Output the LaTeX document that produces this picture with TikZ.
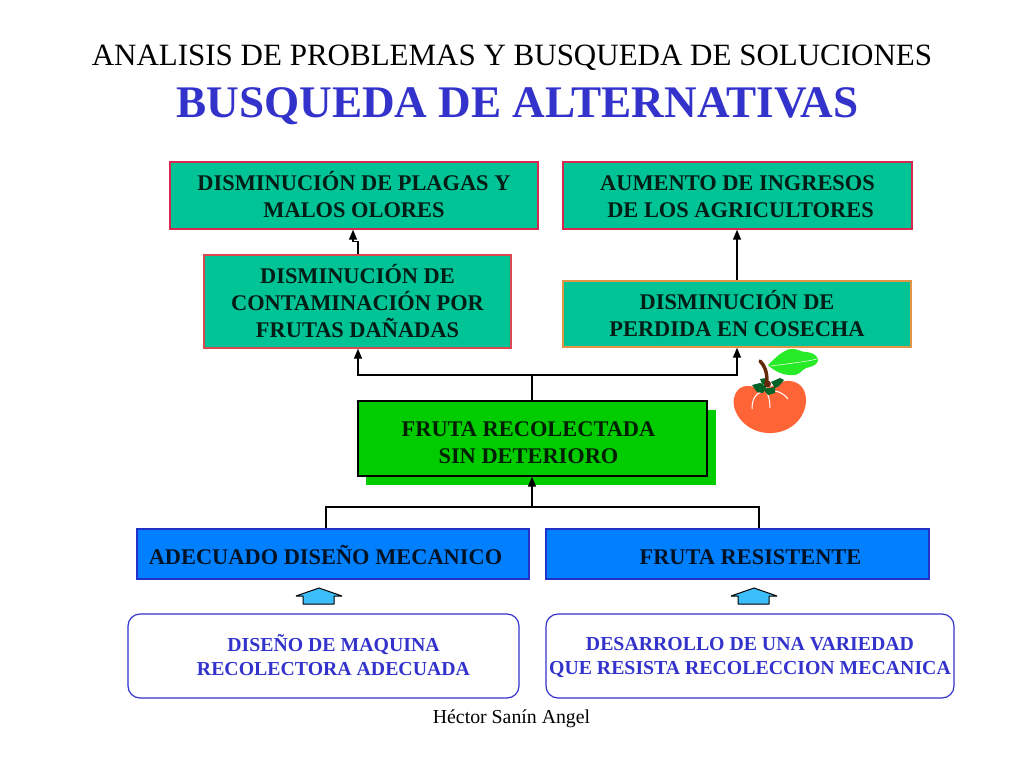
\documentclass[tikz,border=0pt]{standalone}
\usepackage{fontspec}
\setmainfont{Liberation Serif}
\usetikzlibrary{arrows.meta}
\definecolor{teal1}{RGB}{0,195,150}
\definecolor{crim}{RGB}{214,40,80}
\definecolor{oran}{RGB}{226,150,70}
\definecolor{green1}{RGB}{0,204,0}
\definecolor{blue1}{RGB}{0,128,255}
\definecolor{navy1}{RGB}{35,50,200}
\definecolor{ink1}{RGB}{51,51,204}
\definecolor{sky1}{RGB}{60,190,250}
\definecolor{tom}{RGB}{255,100,55}
\definecolor{leaf1}{RGB}{40,235,40}
\definecolor{leaf2}{RGB}{0,100,40}
\definecolor{stem}{RGB}{100,40,10}
\tikzset{
 x=1pt,y=-1pt,
 box/.style={rectangle,inner sep=0pt,align=center,font=\fontsize{22.4}{27}\selectfont\bfseries},
 tealbox/.style={box,fill=teal1,draw=crim,line width=1.4pt,text=black!85!teal1},
 bluebox/.style={box,fill=blue1,draw=navy1,line width=1.4pt,text=black!85!blue1},
 whitebox/.style={box,draw=ink1,line width=1.2pt,rounded corners=12pt,text=ink1,font=\fontsize{19.8}{24}\selectfont\bfseries},
 conn/.style={black,line width=1.4pt},
 arr/.style={conn,-{Triangle[length=10pt,width=8pt]}},
 hs/.style={fill=sky1,draw=black,line width=1pt,line join=bevel},
}
\newcommand{\dn}[1]{\rule{0pt}{#1pt}}
\newcommand{\up}[1]{\rule[-#1pt]{0pt}{0pt}}
\begin{document}
\begin{tikzpicture}
\useasboundingbox (0,0) rectangle (1024,768);
\node[font=\fontsize{31}{33}\selectfont,text=black] (t1) at (512,58) {ANALISIS DE PROBLEMAS Y BUSQUEDA DE SOLUCIONES};
\node[font=\fontsize{45.2}{48}\selectfont\bfseries,text=ink1] (t2) at (517.5,106) {BUSQUEDA DE ALTERNATIVAS};
\node[tealbox,minimum width=368pt,minimum height=67pt] (a) at (354,195.5) {DISMINUCIÓN DE PLAGAS Y\\MALOS OLORES\up{2}};
\node[tealbox,minimum width=349pt,minimum height=67pt] (b) at (737.5,195.5) {\dn{17}AUMENTO DE INGRESOS\\\hspace*{6pt}DE LOS AGRICULTORES};
\node[tealbox,draw=crim!70!oran,minimum width=307pt,minimum height=93pt] (c) at (357.5,301.5) {DISMINUCIÓN DE\\CONTAMINACIÓN POR\\FRUTAS DAÑADAS\up{2}};
\node[tealbox,draw=oran,minimum width=348pt,minimum height=66pt] (d) at (737,314) {DISMINUCIÓN DE\\PERDIDA EN COSECHA\up{2}};
\fill[green1] (366,410) rectangle (716,485);
\node[box,fill=green1,draw=black,line width=1.4pt,minimum width=349pt,minimum height=75pt,text=black!85!green1] (e) at (532.5,438.5) {\dn{23}FRUTA RECOLECTADA\hspace*{8pt}\\SIN DETERIORO\hspace*{8pt}};
\node[bluebox,minimum width=392pt,minimum height=50pt] (f) at (333,554) {\dn{21}ADECUADO DISEÑO MECANICO\hspace*{15pt}};
\node[bluebox,minimum width=383pt,minimum height=50pt] (g) at (737.5,554) {\dn{21}\hspace*{26pt}FRUTA RESISTENTE};
\node[whitebox,minimum width=391pt,minimum height=84pt] (h) at (323.5,656) {\hspace*{20pt}DISEÑO DE MAQUINA\\\hspace*{20pt}RECOLECTORA ADECUADA\up{3}};
\node[whitebox,minimum width=408pt,minimum height=84pt] (i) at (750,656) {\dn{16}DESARROLLO DE UNA VARIEDAD\\QUE RESISTA RECOLECCION MECANICA};
\node[font=\fontsize{19.8}{21}\selectfont] (j) at (511.5,719) {Héctor Sanín Angel};
% connectors
\coordinate (hub1) at (532,375);
\coordinate (hub2) at (532,507);
\draw[arr] (c.north -| 358,0) -- ++(0,-13) -- ++(-5,0) -- (a.south -| 353,0);
\draw[arr] (d.north -| 737,0) -- (b.south -| 737,0);
\draw[conn] (e.north -| hub1) -- (hub1);
\draw[arr] (hub1) -| (c.south -| 358,0);
\draw[arr] (hub1) -| (d.south -| 737,0);
\draw[arr] (hub2) -- (e.south -| hub2);
\draw[conn] (f.north -| 326,0) |- (hub2) -| (g.north -| 759,0);
% house arrows
\draw[hs] (303,604) -- (303,596) -- (296,596) -- (319,588) -- (342,596) -- (334,596) -- (334,604) -- cycle;
\draw[hs] (738,604) -- (738,596) -- (731,596) -- (754,588) -- (777,596) -- (769,596) -- (769,604) -- cycle;
% tomato
\fill[tom] (756,388) .. controls (748,384) and (737,385) .. (734,398)
  .. controls (731,412) and (745,432) .. (768,433)
  .. controls (790,434) and (806,418) .. (806,400)
  .. controls (806,386) and (796,380) .. (786,381)
  .. controls (778,382) and (765,392) .. (756,388) -- cycle;
\draw[white,line width=1pt] (752,409) .. controls (752,400) and (755,394) .. (761,392);
\draw[white,line width=1pt] (770,408) .. controls (770,402) and (769,396) .. (766,391);
\draw[white,line width=1pt] (788,399) .. controls (784,394) and (780,392) .. (775,391);
\fill[leaf1] (768,365) .. controls (775,358) and (782,351) .. (790,349)
  .. controls (797,348) and (800,352) .. (806,352)
  .. controls (812,352) and (819,356) .. (818,361)
  .. controls (816,366) and (810,367) .. (806,368)
  .. controls (802,370) and (800,374) .. (795,375)
  .. controls (785,376) and (775,372) .. (768,365) -- cycle;
\draw[white,line width=.5pt] (771,366) .. controls (785,364) and (805,362) .. (817,359);
\fill[leaf2] (752,385) -- (760,383) -- (767,386) -- (763,393) -- (757,392) -- cycle;
\fill[leaf2] (763,389) -- (775,387) -- (775,393) -- (768,395) -- cycle;
\fill[leaf2] (771,382) -- (780,378) -- (784,380) -- (779,386) -- (775,388) -- cycle;
\fill[leaf2] (760,379) -- (766,378) -- (767,384) -- (762,384) -- cycle;
\draw[stem,line width=3.5pt,line cap=round] (760,361) .. controls (765,366) and (767,372) .. (767,382);
\fill[stem] (767.5,384) circle (3.5);
\end{tikzpicture}
\end{document}
